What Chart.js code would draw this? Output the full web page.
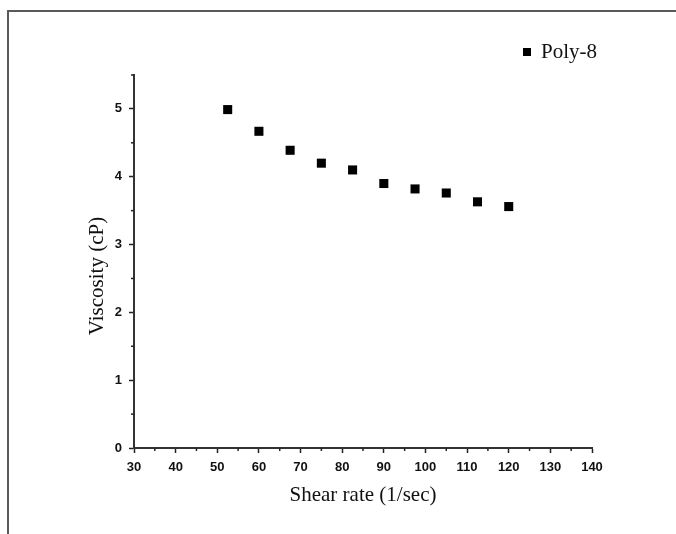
<!DOCTYPE html>
<html>
<head>
<meta charset="utf-8">
<script src="https://cdn.jsdelivr.net/npm/chart.js@4.4.1/dist/chart.umd.min.js"></script>
<style>
  html, body { margin: 0; padding: 0; background: #fff; }
  #wrap { position: relative; width: 676px; height: 534px; overflow: hidden; }
  #frame { position: absolute; left: 7px; top: 10px; width: 700px; height: 560px;
           border-top: 2px solid #5a5a5a; border-left: 2px solid #5a5a5a; pointer-events: none; }
</style>
</head>
<body>
<div id="wrap">
  <canvas id="viscChart" width="676" height="534"></canvas>
  <div id="frame"></div>
</div>
<script>
// data
const seriesName = 'Poly-8';
const xTitle = 'Shear rate (1/sec)';
const yTitle = 'Viscosity (cP)';
const shearRate = [52.5, 60, 67.5, 75, 82.5, 90, 97.5, 105, 112.5, 120];
const viscosity = [4.99, 4.67, 4.39, 4.20, 4.10, 3.90, 3.82, 3.76, 3.63, 3.56];
const xTicks = [30, 40, 50, 60, 70, 80, 90, 100, 110, 120, 130, 140];
const yTicks = [0, 1, 2, 3, 4, 5];

const serif = '"Liberation Serif", "Times New Roman", serif';
const sans = '"Liberation Sans", Arial, sans-serif';

// minor ticks (shorter, between the labelled ones)
const minorTicks = {
    id: 'minorTicks',
    afterDraw(chart) {
        const c = chart.ctx;
        const xs = chart.scales.x, ys = chart.scales.y;
        c.save();
        c.strokeStyle = '#222';
        c.lineWidth = 1.5;
        xs.ticks.forEach(t => {
            if (xTicks.includes(t.value)) return;
            const px = xs.getPixelForValue(t.value);
            c.beginPath();
            c.moveTo(px, xs.top);
            c.lineTo(px, xs.top + 3);
            c.stroke();
        });
        ys.ticks.forEach(t => {
            if (yTicks.includes(t.value)) return;
            const py = ys.getPixelForValue(t.value);
            c.beginPath();
            c.moveTo(ys.right, py);
            c.lineTo(ys.right - 3, py);
            c.stroke();
        });
        c.restore();
    }
};

// y title sits a bit below the middle of the axis in the original
const yAxisTitle = {
    id: 'yAxisTitle',
    afterDraw(chart) {
        const c = chart.ctx;
        c.save();
        c.translate(97, 276);
        c.rotate(-Math.PI / 2);
        c.fillStyle = '#111';
        c.font = '21px ' + serif;
        c.textAlign = 'center';
        c.textBaseline = 'middle';
        c.fillText(yTitle, 0, 0);
        c.restore();
    }
};

// legend drawn in the upper right, outside the plot box
const cornerLegend = {
    id: 'cornerLegend',
    afterDraw(chart) {
        const c = chart.ctx;
        const ds = chart.data.datasets[0];
        c.save();
        c.fillStyle = ds.backgroundColor;
        c.fillRect(523, 48, 8, 8);
        c.fillStyle = '#111';
        c.font = '21px ' + serif;
        c.textBaseline = 'alphabetic';
        c.fillText(ds.label, 541, 58);
        c.restore();
    }
};

new Chart(document.getElementById('viscChart').getContext('2d'), {
    type: 'scatter',
    data: {
        datasets: [{
            label: seriesName,
            data: shearRate.map((x, i) => ({ x: x, y: viscosity[i] })),
            pointStyle: 'rect',
            radius: 6.4,
            hoverRadius: 6.4,
            backgroundColor: '#000',
            borderColor: '#000',
            borderWidth: 0
        }]
    },
    options: {
        responsive: false,
        animation: false,
        layout: { padding: { left: 80, right: 84, top: 75, bottom: 26 } },
        plugins: {
            legend: { display: false },
            tooltip: { enabled: false }
        },
        scales: {
            x: {
                type: 'linear',
                min: 30,
                max: 140,
                afterFit: s => { s.height = 60; },
                border: { display: true, color: '#333', width: 2 },
                grid: {
                    display: true,
                    drawOnChartArea: false,
                    tickLength: 5,
                    tickWidth: 1.5,
                    tickColor: ctx => xTicks.includes(ctx.tick.value) ? '#222' : 'rgba(0,0,0,0)'
                },
                ticks: {
                    stepSize: 5,
                    maxRotation: 0,
                    autoSkip: false,
                    padding: 7,
                    color: '#111',
                    font: { family: sans, size: 13, weight: 'bold' },
                    callback: v => xTicks.includes(v) ? v : ''
                },
                title: {
                    display: true,
                    text: xTitle,
                    color: '#111',
                    font: { family: serif, size: 21 },
                    padding: { top: 4, bottom: 0 }
                }
            },
            y: {
                min: 0,
                max: 5.5,
                afterFit: s => { s.width = 54; },
                border: { display: true, color: '#333', width: 2 },
                grid: {
                    display: true,
                    drawOnChartArea: false,
                    tickLength: 5,
                    tickWidth: 1.5,
                    tickColor: ctx => yTicks.includes(ctx.tick.value) ? '#222' : 'rgba(0,0,0,0)'
                },
                ticks: {
                    stepSize: 0.5,
                    autoSkip: false,
                    padding: 7,
                    color: '#111',
                    font: { family: sans, size: 13, weight: 'bold' },
                    callback: v => yTicks.includes(v) ? v : ''
                },
                title: { display: false }
            }
        }
    },
    plugins: [minorTicks, yAxisTitle, cornerLegend]
});
</script>
</body>
</html>
